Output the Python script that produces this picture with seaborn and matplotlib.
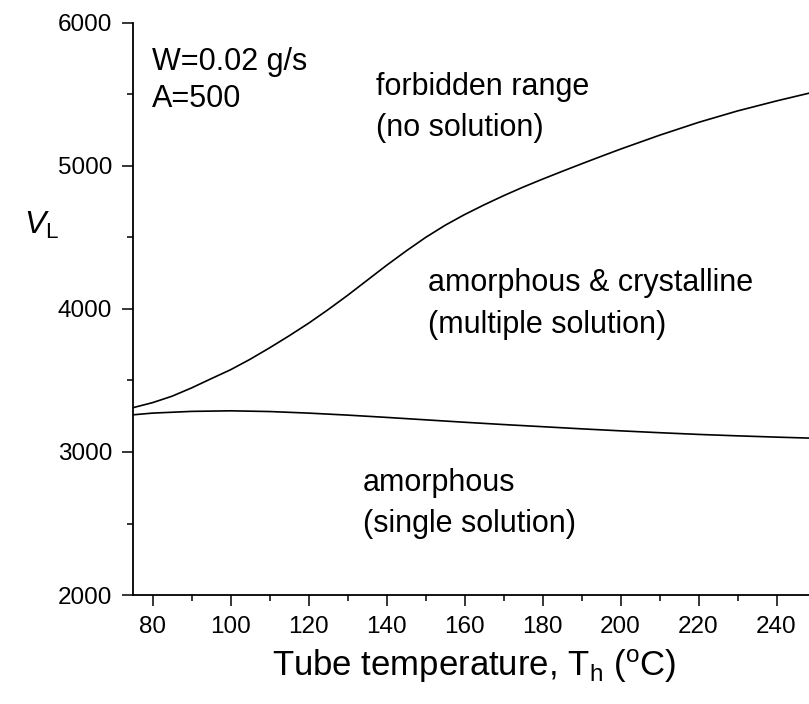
import numpy as np
import pandas as pd
import matplotlib
matplotlib.use("Agg")
import matplotlib.pyplot as plt
import seaborn as sns
from matplotlib.ticker import MultipleLocator

# ---- data ----
upper_T = [75, 80, 85, 90, 95, 100, 105, 110, 115, 120, 125, 130, 135, 140, 145,
           150, 155, 160, 165, 170, 175, 180, 185, 190, 195, 200, 210, 220, 230, 240, 250]
upper_V = [3310, 3345, 3390, 3448, 3512, 3575, 3648, 3728, 3812, 3900, 3995, 4095, 4200, 4305, 4405,
           4500, 4585, 4660, 4728, 4792, 4852, 4908, 4962, 5015, 5067, 5118, 5215, 5305, 5385, 5455, 5520]
lower_T = [75, 80, 90, 100, 110, 120, 130, 140, 150, 160, 170, 180, 190, 200, 210, 220, 230, 240, 250]
lower_V = [3260, 3272, 3284, 3288, 3283, 3272, 3258, 3242, 3225, 3208, 3192, 3177, 3162, 3148, 3135,
           3123, 3113, 3104, 3096]

x_ticks = [80, 100, 120, 140, 160, 180, 200, 220, 240]
y_ticks = [2000, 3000, 4000, 5000, 6000]

df = pd.concat([
    pd.DataFrame({"T": upper_T, "V": upper_V, "curve": "upper"}),
    pd.DataFrame({"T": lower_T, "V": lower_V, "curve": "lower"}),
])

sns.set_theme(style="ticks")
plt.rcParams["font.family"] = ["Liberation Sans", "DejaVu Sans"]
plt.rcParams["mathtext.fontset"] = "custom"
plt.rcParams["mathtext.rm"] = "Liberation Sans"
plt.rcParams["mathtext.it"] = "Liberation Sans:italic"
plt.rcParams["text.color"] = "black"
plt.rcParams["axes.labelcolor"] = "black"
plt.rcParams["xtick.color"] = "black"
plt.rcParams["ytick.color"] = "black"

fig = plt.figure(figsize=(8.09, 7.04), dpi=100)
W, H = 809, 704
ax = fig.add_axes([133 / W, 109 / H, (815.5 - 133) / W, (595 - 23) / H])

sns.lineplot(data=df, x="T", y="V", units="curve", estimator=None, color="black",
             linewidth=1.2, ax=ax, legend=False, sort=False)

ax.set_xlim(75, 250)
ax.set_ylim(2000, 6000)
ax.set_xticks(x_ticks)
ax.set_yticks(y_ticks)
ax.xaxis.set_minor_locator(MultipleLocator(10))
ax.yaxis.set_minor_locator(MultipleLocator(500))
ax.tick_params(which="major", direction="out", length=8, width=1.1, labelsize=17.5,
               colors="black", pad=7)
ax.tick_params(which="minor", direction="out", length=4, width=1.1, colors="black")
for s in ["top", "right"]:
    ax.spines[s].set_visible(False)
for s in ["left", "bottom"]:
    ax.spines[s].set_linewidth(1.3)
    ax.spines[s].set_color("black")

ax.set_xlabel(r"Tube temperature, T$_\mathregular{h}$ ($^\mathregular{o}$C)", fontsize=25,
              labelpad=7, color="black")
ax.set_ylabel("")
fig.text(24 / W, 1 - 225 / H, r"$V_\mathregular{L}$", fontsize=23, va="center", ha="left")


def ftext(x, y, s):
    fig.text(x / W, 1 - y / H, s, fontsize=22, ha="left", va="center", color="black")


ftext(152, 62, "W=0.02 g/s")
ftext(152, 99, "A=500")
ftext(376, 87, "forbidden range")
ftext(376, 128, "(no solution)")
ftext(428, 283, "amorphous & crystalline")
ftext(428, 325, "(multiple solution)")
ftext(363, 483, "amorphous")
ftext(363, 524, "(single solution)")

fig.savefig("out.png", dpi=100, facecolor="white")
